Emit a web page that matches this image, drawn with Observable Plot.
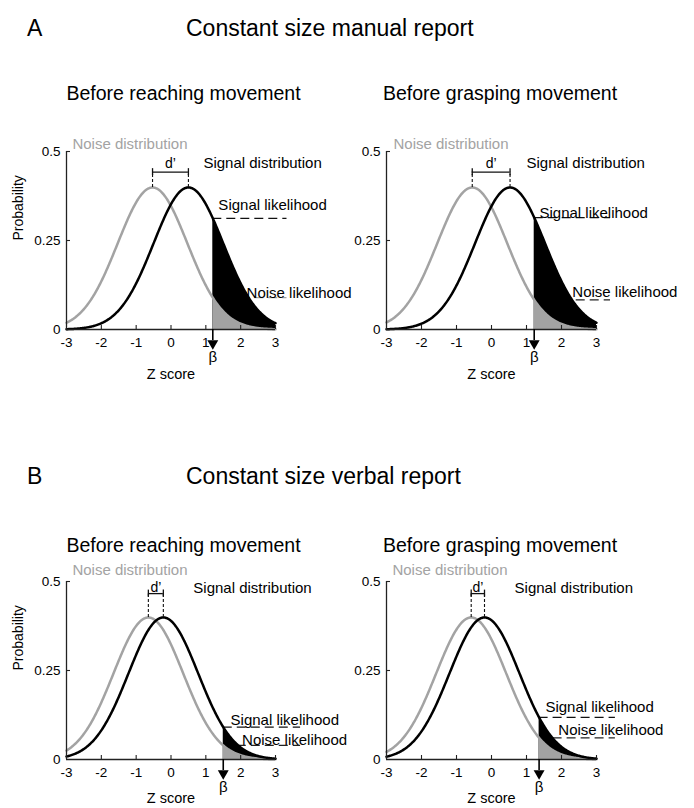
<!DOCTYPE html>
<html><head><meta charset="utf-8">
<script src="https://cdn.jsdelivr.net/npm/d3@7"></script>
<script src="https://cdn.jsdelivr.net/npm/@observablehq/plot@0.6"></script>
<style>
body{margin:0;background:#fff;}
#fig{position:relative;width:694px;height:808px;background:#fff;font-family:"Liberation Sans",Arial,Helvetica,sans-serif;color:#000;overflow:hidden}
.t{position:absolute;white-space:nowrap;line-height:1;}
.panel{position:absolute}
</style></head><body><div id="fig"></div>
<script>
// ---- chart values ----
const sectionLetters = ["A", "B"];
const sectionTitles = ["Constant size manual report", "Constant size verbal report"];
const panelTitles = ["Before reaching movement", "Before grasping movement", "Before reaching movement", "Before grasping movement"];
const noiseMeans = [-0.53, -0.55, -0.65, -0.58];
const signalMeans = [0.5, 0.53, -0.22, -0.2];
const criteria = [1.2, 1.22, 1.5, 1.36];
const stdDev = 1;
const xTicks = [-3, -2, -1, 0, 1, 2, 3];
const yTicks = [0, 0.25, 0.5];
const labelNoiseDist = "Noise distribution";
const labelSignalDist = "Signal distribution";
const labelSignalLik = "Signal likelihood";
const labelNoiseLik = "Noise likelihood";
const labelDprime = "d’";
const labelBeta = "β";
const labelX = "Z score";
const labelY = "Probability";
// annotation anchors in data units
const noiseLabelX = [-2.83, -2.8, -2.83, -2.83];
const noiseLabelY = [0.52, 0.52, 0.531, 0.531];
const dprimeLabelY = [0.466, 0.466, 0.483, 0.483];
const bracketY = [0.442, 0.442, 0.466, 0.466];
const signalDistX = [0.93, 1.0, 0.64, 0.66];
const signalDistY = [0.466, 0.466, 0.48, 0.48];
const sigLikX = [1.36, 1.37, 1.71, 1.54];
const sigLikY = [0.348, 0.326, 0.11, 0.147];
const noiseLikX = [2.17, 2.31, 2.04, 1.91];
const noiseLikY = [0.101, 0.104, 0.053, 0.081];
const dashEnds = [3.33, 3.4, 3.72, 3.54];

// ---- layout / style ----
const GRAY = "#a3a3a3";
const FONT = "Liberation Sans, Arial, Helvetica, sans-serif";
const noiseDashColor = [GRAY, "#222", "#222", "#222"];
const panelLeft = [0, 347, 0, 347];
const panelTop = [130, 130, 560, 560];
const panelHeight = [260, 260, 248, 248];
const mLeft = [66, 39, 66, 39];
const mRight = [72, 98, 72, 98];
const mTop = 21;
const frameH = 178;
const zLabelDy = [49, 43];

const fig = document.getElementById("fig");
function addText(txt, left, baseline, size, extra) {
  const d = document.createElement("div");
  d.className = "t";
  d.textContent = txt;
  d.style.left = left + "px";
  d.style.top = (baseline - 0.8465 * size) + "px";
  d.style.fontSize = size + "px";
  if (extra) Object.assign(d.style, extra);
  fig.appendChild(d);
}
const letterBaseline = [36, 484];
const subBaseline = [101, 553];
sectionLetters.forEach((L, s) => {
  addText(L, 27, letterBaseline[s], 23);
  addText(sectionTitles[s], 186, letterBaseline[s], 23);
});
panelTitles.forEach((t, i) => {
  const s = Math.floor(i / 2);
  addText(t, i % 2 ? 383 : 66.5, subBaseline[s], 19.5);
});

const SQ2PI = Math.sqrt(2 * Math.PI);
const pdf = (x, m) => Math.exp(-0.5 * ((x - m) / stdDev) ** 2) / (stdDev * SQ2PI);
const xs = d3.range(-3, 3.0001, 0.02);

function panel(i) {
  const s = Math.floor(i / 2);
  const m0 = noiseMeans[i], m1 = signalMeans[i], c = criteria[i];
  const curve = xs.map(x => ({x, noise: pdf(x, m0), signal: pdf(x, m1)}));
  const tail = [{x: c, noise: pdf(c, m0), signal: pdf(c, m1)}, ...curve.filter(d => d.x > c)];
  const pxY = 0.5 / frameH;
  const pxX = 6 / (347 - mLeft[i] - mRight[i]);
  const peak = pdf(0, 0);
  const marks = [
    Plot.ruleY([pdf(c, m0)], {x1: c, x2: dashEnds[i], stroke: noiseDashColor[i], strokeWidth: 1.3, strokeDasharray: "9,5"}),
    Plot.ruleY([pdf(c, m1)], {x1: c, x2: dashEnds[i], stroke: "#111", strokeWidth: 1.3, strokeDasharray: "9,5"}),
    Plot.areaY(tail, {x: "x", y: "signal", fill: "black"}),
    Plot.areaY(tail, {x: "x", y: "noise", fill: GRAY}),
    Plot.line(curve, {x: "x", y: "noise", stroke: GRAY, strokeWidth: 2.5}),
    Plot.line(curve, {x: "x", y: "signal", stroke: "black", strokeWidth: 2.5}),
    // axes lines
    Plot.ruleY([0], {x1: xTicks[0], x2: xTicks[xTicks.length - 1], stroke: "#222", strokeWidth: 1.3}),
    Plot.ruleX([xTicks[0]], {y1: 0, y2: yTicks[yTicks.length - 1], stroke: "#222", strokeWidth: 1.3}),
    // inward ticks
    Plot.ruleX(xTicks.slice(1), {x: d => d, y1: 0, y2: 4 * pxY, stroke: "#222", strokeWidth: 1.1}),
    Plot.ruleY(yTicks.slice(1), {y: d => d, x1: xTicks[0], x2: xTicks[0] + 4 * pxX, stroke: "#222", strokeWidth: 1.1}),
    Plot.axisX({ticks: xTicks, tickSize: 0, tickPadding: 8, fontSize: 13.5, label: null, tickFormat: d => String(d)}),
    Plot.axisY({ticks: yTicks, tickSize: 0, tickPadding: 6, fontSize: 13.5, label: null, tickFormat: d => String(d)}),
    Plot.text([labelX], {text: d => d, frameAnchor: "bottom", dy: zLabelDy[s], fontSize: 14.5}),
    // d' bracket
    Plot.ruleX([m0, m1], {x: d => d, y1: peak, y2: bracketY[i], stroke: "#111", strokeWidth: 1.1, strokeDasharray: "3,2"}),
    Plot.ruleY([bracketY[i]], {x1: m0, x2: m1, stroke: "#111", strokeWidth: 1.3}),
    Plot.ruleX([m0, m1], {x: d => d, y1: bracketY[i] - 3.5 * pxY, y2: bracketY[i] + 3.5 * pxY, stroke: "#111", strokeWidth: 1.3}),
    Plot.text([labelDprime], {text: d => d, x: (m0 + m1) / 2, y: dprimeLabelY[i], fontSize: 14}),
    // labels
    Plot.text([labelNoiseDist], {text: d => d, x: noiseLabelX[i], y: noiseLabelY[i], textAnchor: "start", fontSize: 15, fill: GRAY}),
    Plot.text([labelSignalDist], {text: d => d, x: signalDistX[i], y: signalDistY[i], textAnchor: "start", fontSize: 15}),
    Plot.text([labelSignalLik], {text: d => d, x: sigLikX[i], y: sigLikY[i], textAnchor: "start", fontSize: 15}),
    Plot.text([labelNoiseLik], {text: d => d, x: noiseLikX[i], y: noiseLikY[i], textAnchor: "start", fontSize: 15}),
    // criterion arrow
    Plot.ruleX([c], {x: d => d, y1: 0, y2: -11 * pxY, stroke: "black", strokeWidth: 1.6}),
    Plot.dot([c], {x: d => d, y: 0, dy: 14, symbol: "triangle2", rotate: 180, r: 5.2, fill: "black", stroke: "none"}),
    Plot.text([labelBeta], {text: d => d, x: c, y: 0, dy: 28, fontSize: 15})
  ];
  if (i % 2 === 0) {
    marks.push(Plot.text([labelY], {text: d => d, frameAnchor: "left", rotate: -90, dx: -48, fontSize: 14}));
  }
  const svg = Plot.plot({
    width: 347,
    height: panelHeight[i],
    marginLeft: mLeft[i],
    marginRight: mRight[i],
    marginTop: mTop,
    marginBottom: panelHeight[i] - mTop - frameH,
    x: {domain: [xTicks[0], xTicks[xTicks.length - 1]]},
    y: {domain: [yTicks[0], yTicks[yTicks.length - 1]]},
    style: {fontFamily: FONT, fontSize: "13px", background: "transparent", overflow: "visible", color: "black"},
    marks
  });
  svg.classList.add("panel");
  svg.style.left = panelLeft[i] + "px";
  svg.style.top = panelTop[i] + "px";
  svg.style.maxWidth = "none";
  fig.appendChild(svg);
}
[0, 1, 2, 3].forEach(panel);
</script></body></html>
